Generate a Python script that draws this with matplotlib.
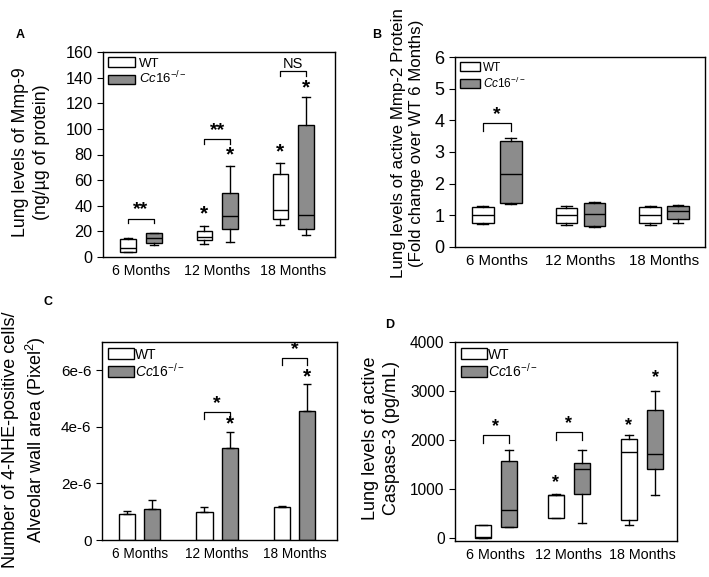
import numpy as np
import matplotlib.pyplot as plt
from matplotlib.patches import Patch

plt.rcParams['font.family'] = ['Liberation Sans', 'DejaVu Sans']
plt.rcParams['mathtext.fontset'] = 'custom'
plt.rcParams['mathtext.rm'] = 'Liberation Sans'
plt.rcParams['mathtext.it'] = 'Liberation Sans:italic'

groups = ['6 Months', '12 Months', '18 Months']
ko_label = r'$\mathit{Cc16}^{-/-}$'
gray = '#8c8c8c'

# A: Mmp-9 (whislo, q1, median, q3, whishi)
mmp9_wt = [[4, 4, 7, 14, 15], [10, 13, 16, 20, 24], [25, 30, 37, 65, 73]]
mmp9_ko = [[9, 11, 15, 19, 19], [12, 22, 32, 50, 71], [17, 22, 33, 103, 125]]
mmp9_brackets = [30, 92, 145]
mmp9_bracket_txt = ['**', '**', 'NS']
mmp9_stars_wt = [None, 34, 82]
mmp9_stars_ko = [None, 80, 132]

# B: active Mmp-2 fold change
mmp2_wt = [[0.72, 0.77, 1.0, 1.25, 1.28], [0.70, 0.77, 1.0, 1.23, 1.30], [0.70, 0.77, 1.0, 1.25, 1.30]]
mmp2_ko = [[1.37, 1.40, 2.30, 3.35, 3.45], [0.63, 0.65, 1.03, 1.40, 1.42], [0.77, 0.88, 1.15, 1.28, 1.32]]
mmp2_brackets = [3.9, None, None]
mmp2_bracket_txt = ['*', '', '']

# C: 4-NHE positive cells (mean, upper SEM)
nhe_wt = [0.93e-6, 1.0e-6, 1.15e-6]
nhe_wt_err = [0.09e-6, 0.15e-6, 0.05e-6]
nhe_ko = [1.1e-6, 3.25e-6, 4.55e-6]
nhe_ko_err = [0.3e-6, 0.56e-6, 0.95e-6]
nhe_brackets = [None, 4.52e-6, 6.43e-6]
nhe_stars_ko = [None, 4.1e-6, 5.75e-6]

# D: active caspase-3
casp_wt = [[0, 0, 15, 260, 260], [400, 400, 870, 870, 900], [260, 370, 1750, 2030, 2100]]
casp_ko = [[220, 230, 570, 1580, 1800], [300, 900, 1400, 1540, 1800], [880, 1400, 1710, 2610, 3000]]
casp_brackets = [2100, 2160, None]
casp_stars_wt = [None, 1130, 2300]
casp_stars_ko = [None, None, 3270]

fig = plt.figure(figsize=(7.09, 5.77), dpi=100)
W, H = 709, 577


def axes_px(left, top, right, bottom):
    return fig.add_axes([left / W, 1 - bottom / H, (right - left) / W, (bottom - top) / H])


def style(ax, yfs, xfs):
    for s in ax.spines.values():
        s.set_linewidth(1.0)
    ax.tick_params(axis='y', direction='out', length=4, labelsize=yfs, right=False)
    ax.tick_params(axis='x', length=0, labelsize=xfs, pad=5)
    ax.set_xticks([1, 2, 3])
    ax.set_xticklabels(groups)


def boxes(ax, data, pos, width, color):
    stats = [dict(whislo=d[0], q1=d[1], med=d[2], q3=d[3], whishi=d[4]) for d in data]
    lp = dict(color='black', linewidth=1)
    ax.bxp(stats, positions=pos, widths=width, patch_artist=True, showfliers=False,
           manage_ticks=False,
           boxprops=dict(facecolor=color, edgecolor='black', linewidth=1),
           medianprops=lp, whiskerprops=lp, capprops=lp)


def bracket(ax, x1, x2, y, drop, text, fs=14):
    ax.plot([x1, x1, x2, x2], [y - drop, y, y, y - drop], color='black', lw=0.9)
    if text:
        ax.text((x1 + x2) / 2, y, text, ha='center', va='bottom', fontsize=fs,
                fontweight='bold' if '*' in text else 'normal')


def star(ax, x, y, fs=15):
    ax.text(x, y, '*', ha='center', va='center', fontsize=fs, fontweight='bold')


def legend(ax, fs, hl, hh, ls, tp):
    h = [Patch(facecolor='white', edgecolor='black', label='WT'),
         Patch(facecolor=gray, edgecolor='black', label=ko_label)]
    ax.legend(handles=h, loc='upper left', frameon=False, fontsize=fs, handlelength=hl,
              handleheight=hh, handletextpad=tp, labelspacing=ls,
              borderaxespad=0.2, borderpad=0.2)


x = np.arange(1, 4)

# ---- A
axA = axes_px(103, 52, 335, 257)
off, w = 0.17, 0.2
boxes(axA, mmp9_wt, x - off, w, 'white')
boxes(axA, mmp9_ko, x + off, w, gray)
axA.set_ylim(0, 160)
axA.set_yticks(range(0, 161, 20))
axA.set_xlim(0.5, 3.55)
style(axA, 11.7, 10.2)
legend(axA, 9.5, 2.05, 0.7, 0.05, 0.3)
for i in range(3):
    bracket(axA, x[i] - off, x[i] + off, mmp9_brackets[i], 3.5, mmp9_bracket_txt[i],
            fs=14 if '*' in mmp9_bracket_txt[i] else 10.5)
    if mmp9_stars_wt[i]:
        star(axA, x[i] - off, mmp9_stars_wt[i])
    if mmp9_stars_ko[i]:
        star(axA, x[i] + off, mmp9_stars_ko[i])

# ---- B
axB = axes_px(455, 57, 705, 247)
off, w = 0.167, 0.26
boxes(axB, mmp2_wt, x - off, w, 'white')
boxes(axB, mmp2_ko, x + off, w, gray)
axB.set_ylim(0, 6)
axB.set_yticks(range(0, 7))
axB.set_xlim(0.5, 3.49)
style(axB, 13, 10.8)
legend(axB, 8.5, 1.7, 0.8, 0.15, 0.3)
bracket(axB, x[0] - off, x[0] + off, mmp2_brackets[0], 0.25, mmp2_bracket_txt[0])

# ---- C
axC = axes_px(102, 342, 337, 540)
off, w = 0.163, 0.21
axC.bar(x - off, nhe_wt, w, color='white', edgecolor='black', lw=1,
        yerr=[np.zeros(3), nhe_wt_err], capsize=3, error_kw=dict(lw=1, capthick=1))
axC.bar(x + off, nhe_ko, w, color=gray, edgecolor='black', lw=1,
        yerr=[np.zeros(3), nhe_ko_err], capsize=3, error_kw=dict(lw=1, capthick=1))
axC.set_ylim(0, 7e-6)
axC.set_yticks([0, 2e-6, 4e-6, 6e-6])
axC.set_yticklabels(['0', '2e-6', '4e-6', '6e-6'])
axC.set_xlim(0.513, 3.55)
style(axC, 11, 9.8)
legend(axC, 10, 1.9, 0.85, 0.0, 0.1)
for i in range(3):
    if nhe_brackets[i]:
        bracket(axC, x[i] - off, x[i] + off, nhe_brackets[i], 0.25e-6, '*')
    if nhe_stars_ko[i]:
        star(axC, x[i] + off, nhe_stars_ko[i])

# ---- D
axD = axes_px(455, 342, 677, 541)
off, w = 0.18, 0.22
boxes(axD, casp_wt, x - off, w, 'white')
boxes(axD, casp_ko, x + off, w, gray)
axD.set_ylim(-60, 4000)
axD.set_yticks(range(0, 4001, 1000))
axD.set_xlim(0.44, 3.48)
style(axD, 11.2, 10.3)
legend(axD, 10, 1.9, 0.85, 0.0, 0.1)
for i in range(3):
    if casp_brackets[i]:
        bracket(axD, x[i] - off, x[i] + off, casp_brackets[i], 160, '*', fs=13)
    if casp_stars_wt[i]:
        star(axD, x[i] - off, casp_stars_wt[i], fs=13)
    if casp_stars_ko[i]:
        star(axD, x[i] + off, casp_stars_ko[i], fs=13)

# labels
def ytext(xp, yp, s, fs):
    fig.text(xp / W, 1 - yp / H, s, rotation=90, ha='center', va='center',
             fontsize=fs, multialignment='center', linespacing=1.25)

ytext(31, 152, 'Lung levels of Mmp-9\n(ng/\u00b5g of protein)', 12.8)
ytext(408, 143, 'Lung levels of active Mmp-2 Protein\n(Fold change over WT 6 Months)', 12.2)
ytext(25, 440, 'Number of 4-NHE-positive cells/\nAlveolar wall area (Pixel$^2$)', 13)
ytext(381, 438, 'Lung levels of active\nCaspase-3 (pg/mL)', 13)

for lx, ly, lt in [(20, 35, 'A'), (377, 35, 'B'), (48, 302, 'C'), (390, 325, 'D')]:
    fig.text(lx / W, 1 - ly / H, lt, fontsize=9, fontweight='bold', ha='center', va='center')

fig.savefig('out.png', dpi=100, facecolor='white')
